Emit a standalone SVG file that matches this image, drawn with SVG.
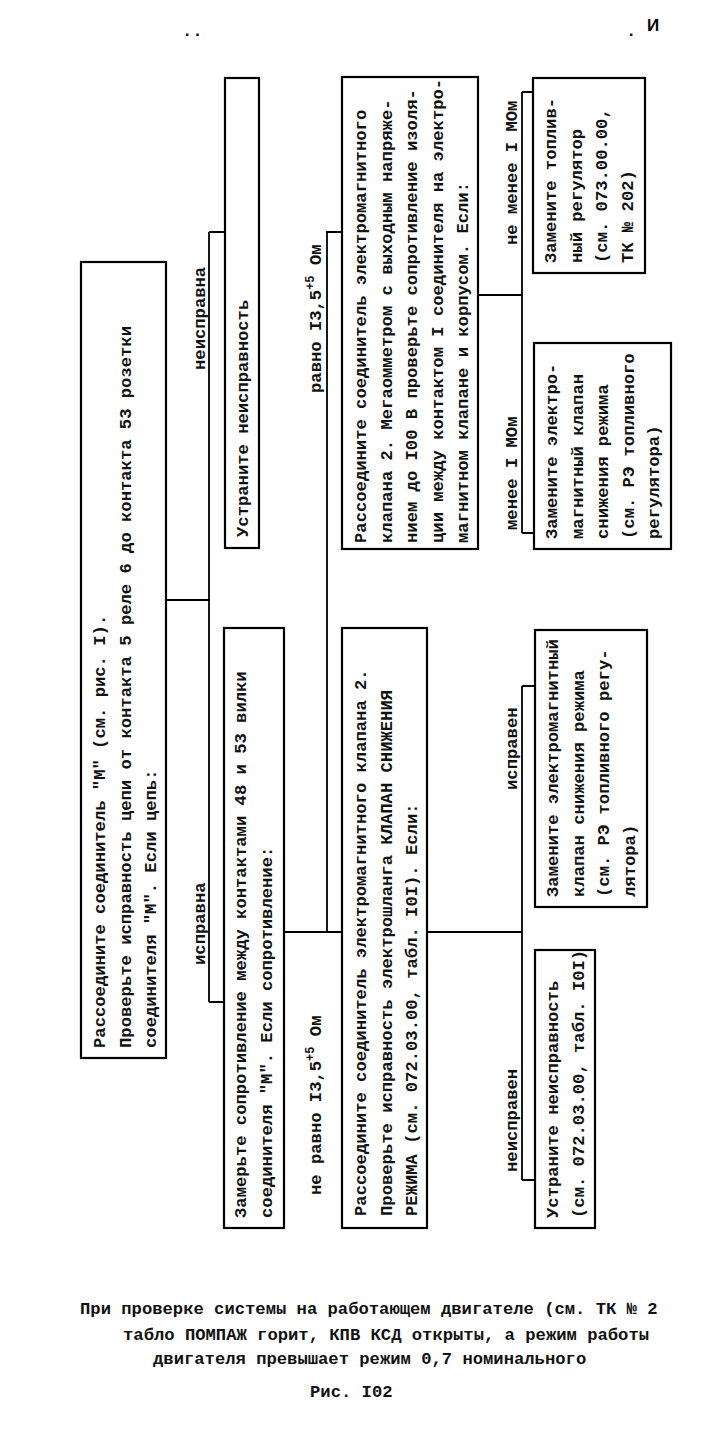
<svg xmlns="http://www.w3.org/2000/svg" width="714" height="1436" viewBox="0 0 714 1436">
<style>
.box{fill:#fff;stroke:#000;stroke-width:2.2}
.con{fill:none;stroke:#000;stroke-width:1.8}
.t{font-family:"Liberation Mono","DejaVu Sans Mono",monospace;font-size:17.2px;font-weight:bold;fill:#111}
.cap{font-family:"Liberation Mono","DejaVu Sans Mono",monospace;font-size:17.2px;font-weight:bold;fill:#111}
.sup{font-size:12px}
</style>
<rect width="714" height="1436" fill="#fff"/>
<g id="marks">
<text x="182" y="36" class="t">..</text>
<text x="626" y="36" class="t">.</text>
<text x="647" y="31" style="font-family:'Liberation Sans',Arial,sans-serif;font-size:17px;font-weight:bold">И</text>
</g>
<g id="connectors">
<path class="con" d="M166,600 H209 M209,232 V1002 M209,232 H225 M209,1002 H224"/>
<path class="con" d="M284,932 H342 M327,932 V232 H342"/>
<path class="con" d="M478,295 H522 M522,92 V533 M522,92 H533 M522,533 H534"/>
<path class="con" d="M427,932 H522 M522,686 V1180 M522,686 H535 M522,1180 H535"/>
</g>
<g id="labels">
<text class="t" transform="translate(205,370) rotate(-90)">неисправна</text>
<text class="t" transform="translate(205,965) rotate(-90)">исправна</text>
<text class="t" transform="translate(321,393) rotate(-90)">равно I3,5<tspan class="sup" dy="-7">+5</tspan><tspan dy="7"> Ом</tspan></text>
<text class="t" transform="translate(321,1195) rotate(-90)">не равно I3,5<tspan class="sup" dy="-7">+5</tspan><tspan dy="7"> Ом</tspan></text>
<text class="t" transform="translate(517,245) rotate(-90)">не менее I МОм</text>
<text class="t" transform="translate(517,530) rotate(-90)">менее I МОм</text>
<text class="t" transform="translate(517,790) rotate(-90)">исправен</text>
<text class="t" transform="translate(517,1172) rotate(-90)">неисправен</text>
</g>
<g id="root">
<rect class="box" x="81" y="262" width="85" height="796"/>
<text class="t" transform="translate(105,1048) rotate(-90)"><tspan x="0" y="0">Рассоедините соединитель "М" (см. рис. I).</tspan><tspan x="0" y="25.5">Проверьте исправность цепи от контакта 5 реле 6 до контакта 53 розетки</tspan><tspan x="0" y="51">соединителя "М". Если цепь:</tspan></text>
</g>
<g id="fix1">
<rect class="box" x="225" y="78" width="34" height="470"/>
<text class="t" transform="translate(248,537) rotate(-90)">Устраните неисправность</text>
</g>
<g id="measure">
<rect class="box" x="224" y="628" width="60" height="600"/>
<text class="t" transform="translate(246,1218) rotate(-90)"><tspan x="0" y="0">Замерьте сопротивление между контактами 48 и 53 вилки</tspan><tspan x="0" y="25.5">соединителя "М". Если сопротивление:</tspan></text>
</g>
<g id="megger">
<rect class="box" x="342" y="77" width="136" height="472"/>
<text class="t" transform="translate(366,543) rotate(-90)"><tspan x="0" y="0">Рассоедините соединитель электромагнитного</tspan><tspan x="0" y="25.5">клапана 2. Мегаомметром с выходным напряже-</tspan><tspan x="0" y="51">нием до I00 В проверьте сопротивление изоля-</tspan><tspan x="0" y="76.5">ции между контактом I соединителя на электро-</tspan><tspan x="0" y="102">магнитном клапане и корпусом. Если:</tspan></text>
</g>
<g id="hose">
<rect class="box" x="342" y="628" width="85" height="600"/>
<text class="t" transform="translate(366,1216) rotate(-90)"><tspan x="0" y="0">Рассоедините соединитель электромагнитного клапана 2.</tspan><tspan x="0" y="25.5">Проверьте исправность электрошланга КЛАПАН СНИЖЕНИЯ</tspan><tspan x="0" y="51">РЕЖИМА (см. 072.03.00, табл. I0I). Если:</tspan></text>
</g>
<g id="regulator">
<rect class="box" x="533" y="78" width="112" height="195"/>
<text class="t" transform="translate(556,263) rotate(-90)"><tspan x="0" y="0">Замените топлив-</tspan><tspan x="0" y="25.5">ный регулятор</tspan><tspan x="0" y="51">(см. 073.00.00,</tspan><tspan x="0" y="76.5">ТК № 202)</tspan></text>
</g>
<g id="valve1">
<rect class="box" x="534" y="343" width="137" height="206"/>
<text class="t" transform="translate(557,539) rotate(-90)"><tspan x="0" y="0">Замените электро-</tspan><tspan x="0" y="25.5">магнитный клапан</tspan><tspan x="0" y="51">снижения режима</tspan><tspan x="0" y="76.5">(см. РЭ топливного</tspan><tspan x="0" y="102">регулятора)</tspan></text>
</g>
<g id="valve2">
<rect class="box" x="535" y="630" width="112" height="277"/>
<text class="t" transform="translate(558,897) rotate(-90)"><tspan x="0" y="0">Замените электромагнитный</tspan><tspan x="0" y="25.5">клапан снижения режима</tspan><tspan x="0" y="51">(см. РЭ топливного регу-</tspan><tspan x="0" y="76.5">лятора)</tspan></text>
</g>
<g id="fix2">
<rect class="box" x="535" y="950" width="60" height="278"/>
<text class="t" transform="translate(558,1218) rotate(-90)"><tspan x="0" y="0">Устраните неисправность</tspan><tspan x="0" y="25.5">(см. 072.03.00, табл. I0I)</tspan></text>
</g>
<g id="caption">
<text class="cap" x="80" y="1314">При проверке системы на работающем двигателе (см. ТК № 2</text>
<text class="cap" x="123" y="1340">табло ПОМПАЖ горит, КПВ КСД открыты, а режим работы</text>
<text class="cap" x="153" y="1364">двигателя превышает режим 0,7 номинального</text>
<text class="cap" x="310" y="1397">Рис. I02</text>
</g>
</svg>
